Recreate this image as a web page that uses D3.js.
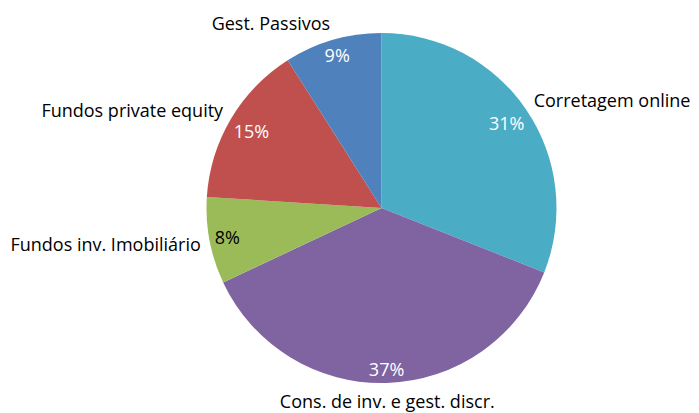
<!DOCTYPE html>
<html>
<head>
<meta charset="utf-8">
<script src="https://cdn.jsdelivr.net/npm/d3@7"></script>
<style>
  body { margin: 0; background: #fff; }
  text { font-family: "Open Sans", sans-serif; }
</style>
</head>
<body>
<div id="chart"></div>
<script>
// categories, clockwise from 12 o'clock
var categories = ["Corretagem online", "Cons. de inv. e gest. discr.", "Fundos inv. Imobiliário", "Fundos private equity", "Gest. Passivos"];
var values = [31, 37, 8, 15, 9];
var colors = ["#4BACC6", "#8064A2", "#9BBB59", "#C0504D", "#4F81BD"];
var pctColors = ["#fff", "#fff", "#000", "#fff", "#fff"];

var width = 699, height = 413;
var cx = 381.5, cy = 208, radius = 175;
var fontSize = 18;

var data = categories.map(function(c, i) {
  return { name: c, value: values[i], color: colors[i], pctColor: pctColors[i] };
});

var svg = d3.select("#chart")
  .append("svg")
  .attr("width", width)
  .attr("height", height);

var g = svg.append("g")
  .attr("transform", "translate(" + cx + "," + cy + ")");

var pie = d3.pie()
  .sort(null)
  .value(function(d) { return d.value; });

var arc = d3.arc()
  .innerRadius(0)
  .outerRadius(radius);

var arcs = pie(data);

g.selectAll("path.slice")
  .data(arcs)
  .enter()
  .append("path")
  .attr("class", "slice")
  .attr("d", arc)
  .style("fill", function(d) { return d.data.color; });

function mid(d) { return (d.startAngle + d.endAngle) / 2; }

// percentage labels, "inside end"
g.selectAll("text.pct")
  .data(arcs)
  .enter()
  .append("text")
  .attr("class", "pct")
  .style("font-size", fontSize + "px")
  .style("fill", function(d) { return d.data.pctColor; })
  .attr("text-anchor", "middle")
  .attr("dominant-baseline", "central")
  .text(function(d) { return d.data.value + "%"; })
  .each(function(d) {
    var a = mid(d), s = Math.sin(a), c = Math.cos(a);
    var w = this.getComputedTextLength(), h = fontSize;
    var ext = Math.abs(s) * w / 2 + Math.abs(c) * h / 2;
    var rr = radius - ext - 4;
    d3.select(this)
      .attr("x", rr * s)
      .attr("y", -rr * c);
  });

// category labels outside
g.selectAll("text.cat")
  .data(arcs)
  .enter()
  .append("text")
  .attr("class", "cat")
  .style("font-size", fontSize + "px")
  .style("fill", "#000")
  .attr("dominant-baseline", "central")
  .text(function(d) { return d.data.name; })
  .each(function(d) {
    var a = mid(d), s = Math.sin(a), c = Math.cos(a);
    var R = radius + 9;
    var anchor = s > 0.1 ? "start" : (s < -0.1 ? "end" : "middle");
    d3.select(this)
      .attr("text-anchor", anchor)
      .attr("x", R * s)
      .attr("y", -R * c - c * fontSize / 2);
  });
</script>
</body>
</html>
